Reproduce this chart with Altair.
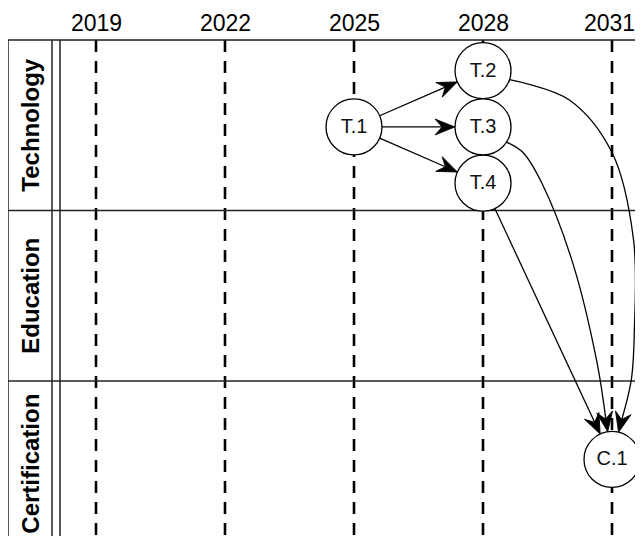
import math
import altair as alt
import pandas as pd

# ---------------- data ----------------
YEARS = [2019, 2022, 2025, 2028, 2031]
LANES = ["Technology", "Education", "Certification"]
LANE_LABEL_POS = [0.5, 0.5, 0.485]   # where each lane title sits inside its lane

NODE_IDS = ["T.1", "T.2", "T.3", "T.4", "C.1"]
NODE_YEARS = [2025, 2028, 2028, 2028, 2031]
NODE_LANES = ["Technology", "Technology", "Technology", "Technology", "Certification"]
NODE_LEVEL = [0.51, 0.18, 0.51, 0.84, 0.46]   # position inside the lane (0 = top, 1 = bottom)

EDGE_SRC = ["T.1", "T.1", "T.1", "T.2", "T.3", "T.4"]
EDGE_TGT = ["T.2", "T.3", "T.4", "C.1", "C.1", "C.1"]

# route hints of the curved connectors (year, lane units from the top)
ROUTE_YEARS = {
    "T.2>C.1": [2030.0, 2031.0, 2031.5, 2031.52, 2031.45],
    "T.3>C.1": [2028.93, 2029.37, 2030.09, 2030.65],
}
ROUTE_LANES = {
    "T.2>C.1": [0.35, 0.66, 1.17, 1.70, 1.99],
    "T.3>C.1": [0.66, 0.84, 1.31, 1.89],
}

# ---------------- layout ----------------
W, H = 575, 496
PX_YEAR = 43.0
PX_LANE = 170.5
X0 = 2019 - 36 / PX_YEAR
X1 = X0 + W / PX_YEAR
Y1 = H / PX_LANE
R = 28.0          # node radius (px)
HEAD = 10.0       # half length of arrow head (px)
FONT = "Liberation Sans"

lane_index = {name: i for i, name in enumerate(LANES)}
nodes = pd.DataFrame({
    "id": NODE_IDS,
    "year": NODE_YEARS,
    "lane": [lane_index[l] + lv for l, lv in zip(NODE_LANES, NODE_LEVEL)],
})
pos = {r.id: (r.year, r.lane) for r in nodes.itertuples()}


def to_px(p):
    return ((p[0] - X0) * PX_YEAR, p[1] * PX_LANE)


def to_data(q):
    return (X0 + q[0] / PX_YEAR, q[1] / PX_LANE)


def unit(a, b):
    dx, dy = b[0] - a[0], b[1] - a[1]
    n = math.hypot(dx, dy)
    return (dx / n, dy / n)


line_rows, head_rows = [], []
for s, t in zip(EDGE_SRC, EDGE_TGT):
    key = f"{s}>{t}"
    via = [to_px(v) for v in zip(ROUTE_YEARS.get(key, []), ROUTE_LANES.get(key, []))]
    sc, tc = to_px(pos[s]), to_px(pos[t])
    first = via[0] if via else tc
    last = via[-1] if via else sc
    u0 = unit(sc, first)
    u1 = unit(last, tc)
    start = (sc[0] + R * u0[0], sc[1] + R * u0[1])
    tip = (tc[0] - R * u1[0], tc[1] - R * u1[1])
    head = (tip[0] - HEAD * u1[0], tip[1] - HEAD * u1[1])
    for k, p in enumerate([start] + via + [head]):
        d = to_data(p)
        line_rows.append({"edge": key, "seq": k, "year": d[0], "lane": d[1]})
    d = to_data(head)
    head_rows.append({"edge": key, "year": d[0], "lane": d[1],
                      "angle": math.degrees(math.atan2(u1[1], u1[0])) % 360})

lines = pd.DataFrame(line_rows)
heads = pd.DataFrame(head_rows)
years_df = pd.DataFrame({"year": YEARS})
bounds_df = pd.DataFrame({"b": list(range(len(LANES)))})
lanes_df = pd.DataFrame({"name": LANES, "c": [i + p for i, p in enumerate(LANE_LABEL_POS)]})
one = pd.DataFrame({"k": [0]})

xscale = alt.Scale(domain=[X0, X1], nice=False, zero=False)
yscale = alt.Scale(domain=[0, Y1], reverse=True, nice=False, zero=False)
xaxis = alt.Axis(orient="top", values=YEARS, format="d", labelFontSize=23,
                 labelFont=FONT, labelColor="black", ticks=False, tickSize=0,
                 domain=False, grid=False, labelPadding=10,
                 labelBaseline="alphabetic", labelFlush=False,
                 labelOffset={"condition": {"test": f"datum.value == {YEARS[-1]}", "value": -3},
                              "value": 0})


def X(field="year"):
    return alt.X(f"{field}:Q", scale=xscale, axis=xaxis, title=None)


def Y(field="lane"):
    return alt.Y(f"{field}:Q", scale=yscale, axis=None)


dashed = alt.Chart(years_df).mark_rule(
    color="black", strokeWidth=2.6, strokeDash=[12, 9]
).encode(x=X(), y=alt.value(0), y2=alt.value(H))

hlines = alt.Chart(bounds_df).mark_rule(color="#222", strokeWidth=1.5).encode(
    y=Y("b"), x=alt.value(-52), x2=alt.value(W))

vline_a = alt.Chart(one).mark_rule(color="#222", strokeWidth=1.5).encode(
    x=alt.value(-52), y=alt.value(0), y2=alt.value(H))
vline_b = alt.Chart(one).mark_rule(color="#222", strokeWidth=1.5).encode(
    x=alt.value(-8), y=alt.value(0), y2=alt.value(H))
vline_c = alt.Chart(one).mark_rule(color="#222", strokeWidth=1.5).encode(
    x=alt.value(0), y=alt.value(0), y2=alt.value(H))

lane_text = alt.Chart(lanes_df).mark_text(
    angle=270, font=FONT, fontSize=24, fontWeight="bold", color="black",
    align="center", baseline="middle"
).encode(x=alt.value(-28), y=Y("c"), text="name:N")

edges = alt.Chart(lines).mark_line(
    color="black", strokeWidth=1.3, interpolate="catmull-rom"
).encode(x=X(), y=Y(), detail="edge:N", order=alt.Order("seq:Q"))

circles = alt.Chart(nodes).mark_point(
    shape="circle", filled=True, fill="white", stroke="black", strokeWidth=1.3,
    opacity=1, size=(2 * R) ** 2
).encode(x=X(), y=Y())

labels = alt.Chart(nodes).mark_text(
    font=FONT, fontSize=20, color="#111", align="center", baseline="middle"
).encode(x=X(), y=Y(), text="id:N")

arrows = alt.Chart(heads).mark_point(
    shape="M1,0L-1,-0.8L-0.3,0L-1,0.8Z", filled=True, fill="black",
    stroke="black", strokeWidth=0.8, opacity=1, size=(2 * HEAD) ** 2
).encode(x=X(), y=Y(), angle=alt.Angle("angle:Q", scale=None))

chart = alt.layer(
    dashed, hlines, vline_a, vline_b, vline_c, lane_text, edges, circles, labels, arrows
).properties(
    width=W, height=H,
    autosize=alt.AutoSizeParams(type="none"),
    padding={"left": 52, "top": 32, "right": 0, "bottom": 0},
).configure_view(strokeWidth=0).configure(font=FONT, background="white")

chart.save("out.html", embed_options={"renderer": "svg", "actions": False})
